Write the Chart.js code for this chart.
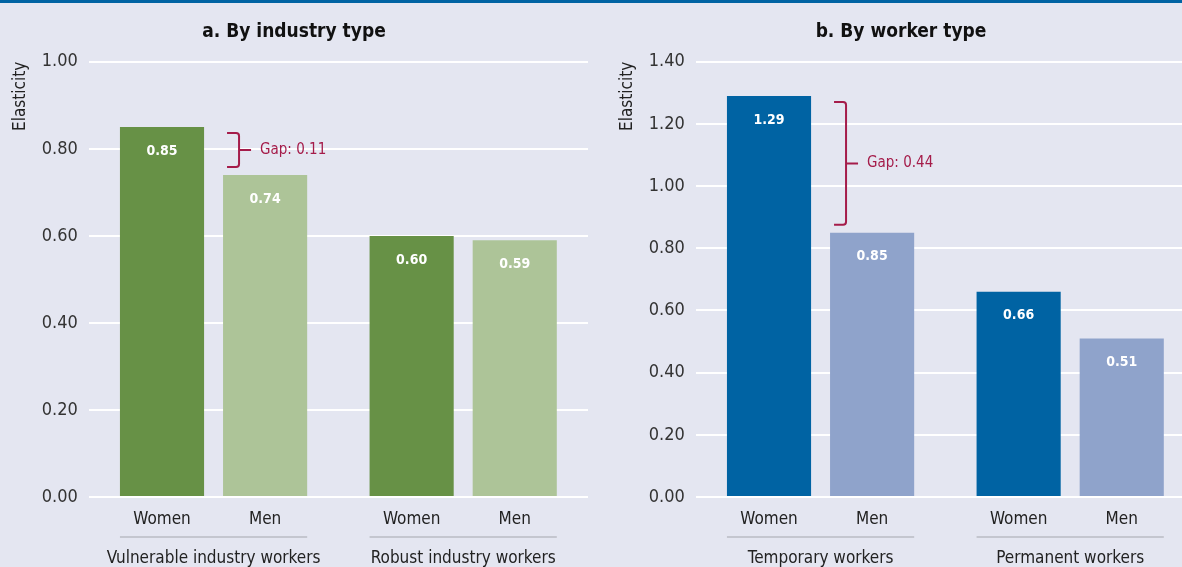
<!DOCTYPE html>
<html>
<head>
<meta charset="utf-8">
<script src="https://cdn.jsdelivr.net/npm/chart.js@4.4.1/dist/chart.umd.min.js"></script>
<style>
  html, body { margin: 0; padding: 0; background: #e4e6f1; width: 1182px; height: 567px; overflow: hidden; }
  #band { position: absolute; left: 0; top: 0; width: 1182px; height: 3px; background: #0063a3; z-index: 2; }
  .panel { position: absolute; top: 0; width: 592px; height: 567px; }
</style>
</head>
<body>
<div id="band"></div>
<div class="panel" style="left:0"><canvas id="chartA" width="592" height="567"></canvas></div>
<div class="panel" style="left:607px"><canvas id="chartB" width="592" height="567"></canvas></div>
<script>
// Series shown in each bar pair
const genderLabels = ['Women', 'Men'];

// Panel a: by industry type
const industryGroups = ['Vulnerable industry workers', 'Robust industry workers'];
const industryWomen = [0.85, 0.60];
const industryMen = [0.74, 0.59];
const industryAxisMax = 1.0;

// Panel b: by worker type
const workerGroups = ['Temporary workers', 'Permanent workers'];
const workerWomen = [1.29, 0.66];
const workerMen = [0.85, 0.51];
const workerAxisMax = 1.4;

const tickStep = 0.2;

const FONT = '"DejaVu Sans Condensed", "Liberation Sans", Arial, sans-serif';
const GAP_COLOR = '#a51c4a';

// Value labels inside bars, gender labels below bars, group labels with a separator rule
const barAnnotations = {
  id: 'barAnnotations',
  afterDatasetsDraw(chart) {
    const ctx = chart.ctx;
    const area = chart.chartArea;
    const metas = chart.data.datasets.map((d, i) => chart.getDatasetMeta(i));
    ctx.save();
    metas.forEach((meta, di) => {
      meta.data.forEach((bar, i) => {
        const v = chart.data.datasets[di].data[i];
        ctx.fillStyle = '#ffffff';
        ctx.font = 'bold 14px ' + FONT;
        ctx.textAlign = 'center';
        ctx.textBaseline = 'middle';
        ctx.fillText(v.toFixed(2), bar.x, bar.y + 24);
        ctx.fillStyle = '#222222';
        ctx.font = '17px ' + FONT;
        ctx.fillText(genderLabels[di], bar.x, area.bottom + 23);
      });
    });
    chart.data.labels.forEach((label, i) => {
      const first = metas[0].data[i];
      const last = metas[metas.length - 1].data[i];
      const left = first.x - first.width / 2;
      const right = last.x + last.width / 2;
      ctx.strokeStyle = '#c4c6cf';
      ctx.lineWidth = 2;
      ctx.beginPath();
      ctx.moveTo(left, area.bottom + 40);
      ctx.lineTo(right, area.bottom + 40);
      ctx.stroke();
      ctx.fillStyle = '#222222';
      ctx.font = '17px ' + FONT;
      ctx.textAlign = 'center';
      ctx.textBaseline = 'middle';
      ctx.fillText(label, (left + right) / 2, area.bottom + 62);
    });
    ctx.restore();
  }
};

// Bracket showing the women-men gap for the first group
const gapBracket = {
  id: 'gapBracket',
  afterDatasetsDraw(chart) {
    const ctx = chart.ctx;
    const y = chart.scales.y;
    const women = chart.data.datasets[0].data[0];
    const men = chart.data.datasets[1].data[0];
    const menBar = chart.getDatasetMeta(1).data[0];
    const xBase = menBar.x - menBar.width / 2;
    const top = y.getPixelForValue(women) + 6;
    const bottom = y.getPixelForValue(men) - 8;
    const mid = (top + bottom) / 2;
    const xL = xBase + 4, xV = xBase + 16, xT = xBase + 28;
    ctx.save();
    ctx.strokeStyle = GAP_COLOR;
    ctx.lineWidth = 2;
    ctx.beginPath();
    ctx.moveTo(xL, top);
    ctx.lineTo(xV - 3, top);
    ctx.quadraticCurveTo(xV, top, xV, top + 3);
    ctx.lineTo(xV, bottom - 3);
    ctx.quadraticCurveTo(xV, bottom, xV - 3, bottom);
    ctx.lineTo(xL, bottom);
    ctx.moveTo(xV, mid);
    ctx.lineTo(xT, mid);
    ctx.stroke();
    ctx.fillStyle = GAP_COLOR;
    ctx.font = '15px ' + FONT;
    ctx.textAlign = 'left';
    ctx.textBaseline = 'middle';
    ctx.fillText('Gap: ' + (women - men).toFixed(2), xT + 9, mid);
    ctx.restore();
  }
};

function makeChart(canvasId, title, groups, women, men, axisMax, dark, light) {
  return new Chart(document.getElementById(canvasId), {
    type: 'bar',
    data: {
      labels: groups,
      datasets: [
        { label: genderLabels[0], data: women, backgroundColor: dark },
        { label: genderLabels[1], data: men, backgroundColor: light }
      ]
    },
    options: {
      responsive: false,
      animation: false,
      devicePixelRatio: 1,
      categoryPercentage: 0.826,
      barPercentage: 0.816,
      layout: { padding: { left: 0, right: 4, top: 0, bottom: 0 } },
      plugins: {
        legend: { display: false },
        tooltip: { enabled: false },
        title: {
          display: true,
          text: title,
          color: '#111111',
          font: { family: FONT, size: 19, weight: 'bold' },
          padding: { top: 21, bottom: 18 }
        }
      },
      scales: {
        x: {
          grid: { display: false },
          border: { display: false },
          ticks: { display: false },
          afterFit(scale) { scale.height = 70; }
        },
        y: {
          min: 0,
          max: axisMax,
          ticks: {
            stepSize: tickStep,
            color: '#333333',
            font: { family: FONT, size: 18 },
            padding: 11,
            callback: v => v.toFixed(2)
          },
          grid: { color: '#ffffff', lineWidth: 2, drawTicks: false },
          border: { display: false },
          title: {
            display: true,
            text: 'Elasticity',
            align: 'end',
            color: '#222222',
            font: { family: FONT, size: 17 },
            padding: { top: 10, bottom: 0 }
          },
          afterFit(scale) { scale.width = 88.75; }
        }
      }
    },
    plugins: [barAnnotations, gapBracket]
  });
}

makeChart('chartA', 'a. By industry type', industryGroups, industryWomen, industryMen, industryAxisMax, '#679146', '#adc498');
makeChart('chartB', 'b. By worker type', workerGroups, workerWomen, workerMen, workerAxisMax, '#0063a3', '#8fa3cb');
</script>
</body>
</html>
